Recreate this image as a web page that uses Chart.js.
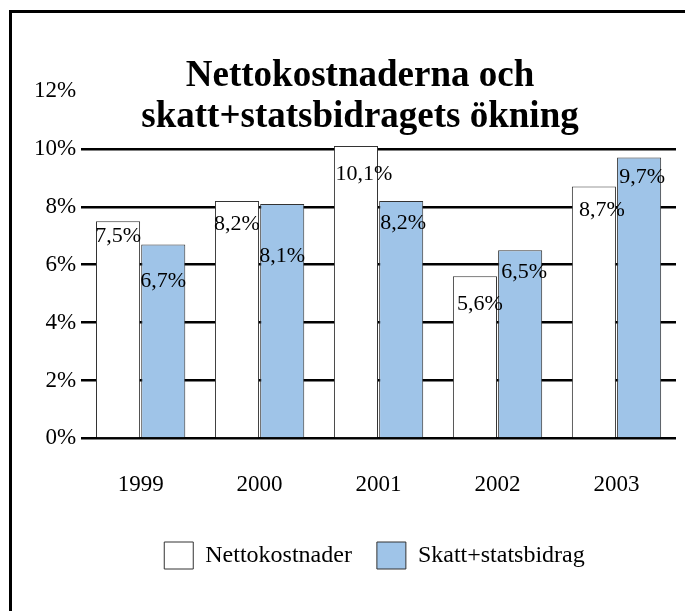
<!DOCTYPE html>
<html>
<head>
<meta charset="utf-8">
<script src="https://cdn.jsdelivr.net/npm/chart.js@4.4.1/dist/chart.umd.min.js"></script>
<style>
  body { margin: 0; background: #fff; overflow: hidden; }
  #wrap { position: relative; width: 685px; height: 611px; }
  #frame { position: absolute; left: 9px; top: 10px; width: 800px; height: 800px;
           border-left: 3px solid #000; border-top: 3px solid #000; pointer-events: none; }
</style>
</head>
<body>
<div id="wrap">
  <canvas id="chartCanvas" width="685" height="611"></canvas>
  <div id="frame"></div>
</div>
<script>
// Data
var years = ['1999', '2000', '2001', '2002', '2003'];
var nettokostnader = [7.5, 8.2, 10.1, 5.6, 8.7];
var skattStatsbidrag = [6.7, 8.1, 8.2, 6.5, 9.7];
var titleLines = ['Nettokostnaderna och', 'skatt+statsbidragets ökning'];

var serif = "'Liberation Serif', 'Times New Roman', serif";

// labels were nudged by hand in the original, one [dx, dy] per bar
var labelNudge = [
    [[0, 15], [0, 23], [8, 28], [5, 28], [8, 24]],
    [[0, 37], [0, 52], [2, 22], [4, 22], [3, 20]]
];

function fmt(v) {
    return v.toFixed(1).replace('.', ',') + '%';
}

// Title drawn over the plot, it does not take space from it
var titlePlugin = {
    id: 'overTitle',
    afterDraw: function (chart) {
        var ctx = chart.ctx;
        ctx.save();
        ctx.font = 'bold 37px ' + serif;
        ctx.fillStyle = '#000';
        ctx.textAlign = 'center';
        ctx.textBaseline = 'alphabetic';
        ctx.fillText(titleLines[0], 360, 86);
        ctx.fillText(titleLines[1], 360, 127);
        ctx.restore();
    }
};

var valueLabels = {
    id: 'valueLabels',
    afterDatasetsDraw: function (chart) {
        var ctx = chart.ctx;
        ctx.save();
        ctx.font = '22px ' + serif;
        ctx.fillStyle = '#000';
        ctx.textAlign = 'center';
        ctx.textBaseline = 'middle';
        chart.data.datasets.forEach(function (ds, i) {
            chart.getDatasetMeta(i).data.forEach(function (bar, j) {
                var n = labelNudge[i][j];
                ctx.fillText(fmt(ds.data[j]), bar.x + n[0], bar.y + n[1]);
            });
        });
        ctx.restore();
    }
};

// legend sits a bit right of the canvas centre in the original
var legendShift = {
    id: 'legendShift',
    afterLayout: function (chart) {
        chart.legend.left += 22;
        chart.legend.right += 22;
    }
};

var ctx = document.getElementById('chartCanvas');

var chart = new Chart(ctx, {
    type: 'bar',
    data: {
        labels: years,
        datasets: [{
            label: 'Nettokostnader',
            data: nettokostnader,
            backgroundColor: '#ffffff',
            borderColor: '#333333',
            borderWidth: 1
        }, {
            label: 'Skatt+statsbidrag',
            data: skattStatsbidrag,
            backgroundColor: '#9fc4e8',
            borderColor: '#333333',
            borderWidth: 1
        }]
    },
    options: {
        responsive: false,
        animation: false,
        devicePixelRatio: 1,
        categoryPercentage: 0.76,
        barPercentage: 0.975,
        layout: { padding: { left: 29, right: 9, top: 91, bottom: 32 } },
        plugins: {
            title: { display: false },
            tooltip: { enabled: false },
            legend: {
                position: 'bottom',
                labels: {
                    color: '#000',
                    font: { family: serif, size: 24 },
                    boxWidth: 29,
                    boxHeight: 27,
                    padding: 25
                }
            }
        },
        scales: {
            x: {
                grid: { display: false, drawTicks: false },
                border: { display: false },
                ticks: { color: '#000', font: { family: serif, size: 23 }, padding: 33 },
                afterFit: function (axis) { axis.height -= 15; }
            },
            y: {
                min: 0,
                max: 12,
                border: { display: false },
                grid: {
                    drawTicks: false,
                    lineWidth: 2.5,
                    color: function (c) {
                        return c.tick && c.tick.value === 12 ? 'rgba(0,0,0,0)' : '#000';
                    }
                },
                ticks: {
                    stepSize: 2,
                    padding: 5,
                    color: '#000',
                    font: { family: serif, size: 23 },
                    callback: function (v) { return v + '%'; }
                }
            }
        }
    },
    plugins: [valueLabels, titlePlugin, legendShift]
});
</script>
</body>
</html>
